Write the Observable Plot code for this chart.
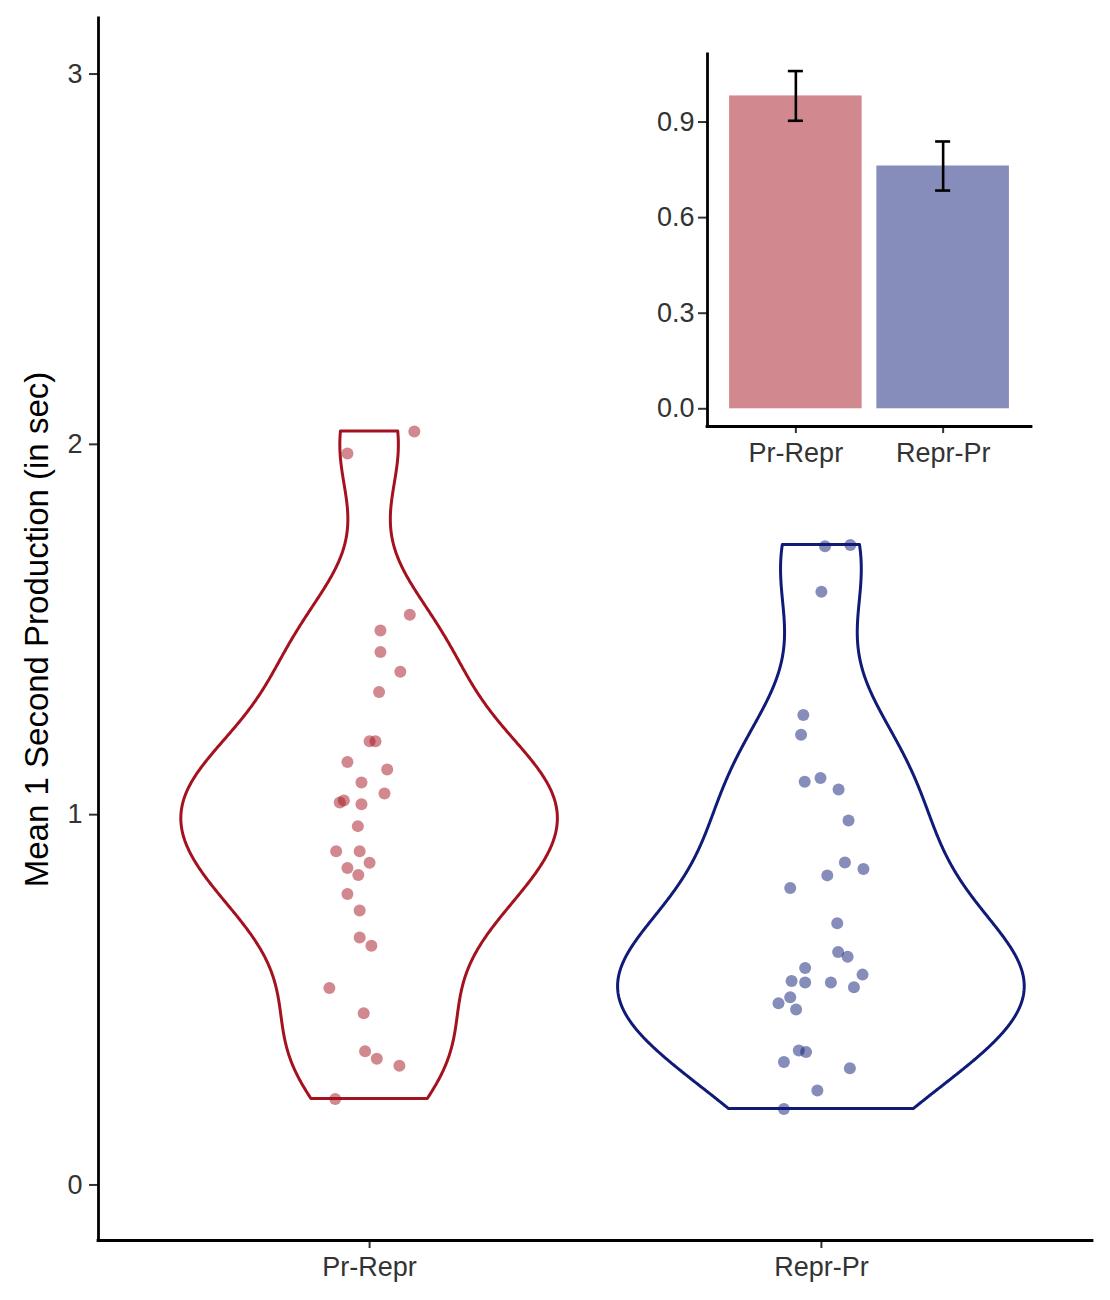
<!DOCTYPE html>
<html><head><meta charset="utf-8">
<script src="https://cdn.jsdelivr.net/npm/d3@7"></script>
<script src="https://cdn.jsdelivr.net/npm/@observablehq/plot@0.6"></script>
<style>
body{margin:0;background:#fff;}
#wrap{position:relative;width:1110px;height:1300px;}
#main{position:absolute;left:0;top:0;}
#inset{position:absolute;left:620px;top:40px;}
</style></head><body><div id="wrap"><div id="main"></div><div id="inset"></div></div>
<script>
// ---- data ----
const groups = ["Pr-Repr", "Repr-Pr"];
const groupColors = ["#A3121E", "#0F1B77"];

const prReprValues = [2.035, 1.975, 1.540, 1.497, 1.439, 1.386, 1.331, 1.198, 1.198, 1.142, 1.122, 1.087, 1.057, 1.033, 1.038, 1.028, 0.969, 0.901, 0.901, 0.870, 0.856, 0.837, 0.786, 0.741, 0.668, 0.646, 0.532, 0.464, 0.361, 0.341, 0.322, 0.232];
const prReprJitter = [0.099, -0.049, 0.089, 0.024, 0.024, 0.068, 0.021, 0.000, 0.013, -0.049, 0.039, -0.018, 0.033, -0.066, -0.057, -0.018, -0.026, -0.074, -0.022, 0.000, -0.049, -0.025, -0.049, -0.022, -0.022, 0.004, -0.089, -0.013, -0.010, 0.016, 0.066, -0.076];

const reprPrValues = [1.725, 1.728, 1.602, 1.269, 1.216, 1.089, 1.099, 1.068, 0.984, 0.871, 0.853, 0.836, 0.802, 0.707, 0.629, 0.616, 0.586, 0.568, 0.551, 0.547, 0.547, 0.534, 0.507, 0.491, 0.474, 0.363, 0.359, 0.332, 0.315, 0.255, 0.205];
const reprPrJitter = [0.008, 0.064, 0.000, -0.040, -0.045, -0.037, -0.002, 0.038, 0.060, 0.052, 0.093, 0.013, -0.069, 0.035, 0.037, 0.058, -0.036, 0.091, -0.066, -0.036, 0.021, 0.072, -0.069, -0.095, -0.056, -0.050, -0.034, -0.083, 0.063, -0.009, -0.083];

const barMeans = [0.982, 0.762];
const barSE = [0.078, 0.077];

const mainYTicks = [0, 1, 2, 3];
const insetYTicks = [0, 0.3, 0.6, 0.9];
const yTitle = "Mean 1 Second Production (in sec)";

// ---- derived tables ----
const seriesValues = [prReprValues, reprPrValues];
const seriesJitter = [prReprJitter, reprPrJitter];

const points = [];
seriesValues.forEach((vals, gi) => vals.forEach((v, k) => points.push({group: groups[gi], pos: gi + 1 + seriesJitter[gi][k], value: v})));

// gaussian kernel density (nrd0 bandwidth, trimmed to data range) as in a violin plot
function kde(values) {
  const n = values.length;
  const sd = d3.deviation(values);
  const iqr = d3.quantile(values, 0.75) - d3.quantile(values, 0.25);
  const bw = 0.9 * Math.min(sd, iqr / 1.34) * Math.pow(n, -0.2);
  const lo = d3.min(values), hi = d3.max(values);
  const out = [];
  for (let i = 0; i < 512; i++) {
    const y = lo + (hi - lo) * i / 511;
    let s = 0;
    for (const v of values) { const u = (y - v) / bw; s += Math.exp(-0.5 * u * u); }
    out.push({y, d: s / (n * bw * Math.sqrt(2 * Math.PI))});
  }
  return out;
}
const densities = seriesValues.map(kde);
const maxD = d3.max(densities.flat(), r => r.d);
const violin = [];
densities.forEach((rows, gi) => rows.forEach(r => {
  const w = r.d / maxD * 0.45;
  violin.push({group: groups[gi], y: r.y, lo: gi + 1 - w, hi: gi + 1 + w});
}));

const bars = groups.map((g, i) => ({group: g, i: i + 1, mean: barMeans[i], lo: barMeans[i] - barSE[i], hi: barMeans[i] + barSE[i]}));

const font = "'Liberation Sans', Arial, Helvetica, sans-serif";

// ---- main chart ----
const main = Plot.plot({
  width: 1110, height: 1300,
  marginLeft: 98, marginRight: 18, marginTop: 18, marginBottom: 60,
  x: {domain: [0.4, 2.6]},
  y: {domain: [-0.15, 3.15]},
  color: {domain: groups, range: groupColors},
  style: {fontFamily: font, fontSize: "27px", color: "#333", background: "transparent"},
  marks: [
    Plot.areaX(violin, {y: "y", x1: "lo", x2: "hi", z: "group", fill: "none", stroke: "group", strokeWidth: 3}),
    Plot.dot(points, {x: "pos", y: "value", r: 6, fill: "group", fillOpacity: 0.5}),
    Plot.axisY(mainYTicks, {tickSize: 9, tickPadding: 7, fontSize: 27, tickFormat: d => String(d), label: null, strokeWidth: 2}),
    Plot.axisX([1, 2], {tickSize: 8, tickPadding: 8, fontSize: 27, tickFormat: d => groups[d - 1], label: null, strokeWidth: 2}),
    Plot.ruleX([0.4], {stroke: "black", strokeWidth: 2.8, strokeLinecap: "square"}),
    Plot.ruleY([-0.15], {stroke: "black", strokeWidth: 2.8, strokeLinecap: "square"}),
    Plot.text([yTitle], {frameAnchor: "left", dx: -61, rotate: -90, fontSize: 33, fill: "black", textAnchor: "middle"})
  ]
});
document.getElementById("main").appendChild(main);

// ---- inset bar chart ----
const inset = Plot.plot({
  width: 420, height: 440,
  marginLeft: 87, marginRight: 9, marginTop: 14, marginBottom: 54,
  x: {domain: [0.4, 2.6]},
  y: {domain: [-0.0556, 1.112]},
  color: {domain: groups, range: groupColors},
  style: {fontFamily: font, fontSize: "27px", color: "#333", background: "transparent"},
  marks: [
    Plot.rectY(bars, {x1: d => d.i - 0.45, x2: d => d.i + 0.45, y: "mean", fill: "group", fillOpacity: 0.5}),
    Plot.ruleX(bars, {x: "i", y1: "lo", y2: "hi", stroke: "black", strokeWidth: 2.6}),
    Plot.ruleY(bars, {y: "lo", x1: d => d.i - 0.051, x2: d => d.i + 0.051, stroke: "black", strokeWidth: 2.6}),
    Plot.ruleY(bars, {y: "hi", x1: d => d.i - 0.051, x2: d => d.i + 0.051, stroke: "black", strokeWidth: 2.6}),
    Plot.axisY(insetYTicks, {tickSize: 9, tickPadding: 4, fontSize: 27, tickFormat: d3.format(".1f"), label: null, strokeWidth: 2}),
    Plot.axisX([1, 2], {tickSize: 7, tickPadding: 9, fontSize: 27, tickFormat: d => groups[d - 1], label: null, strokeWidth: 2}),
    Plot.ruleX([0.4], {stroke: "black", strokeWidth: 2.8, strokeLinecap: "square"}),
    Plot.ruleY([-0.0556], {stroke: "black", strokeWidth: 2.8, strokeLinecap: "square"})
  ]
});
document.getElementById("inset").appendChild(inset);
</script>
</body></html>
